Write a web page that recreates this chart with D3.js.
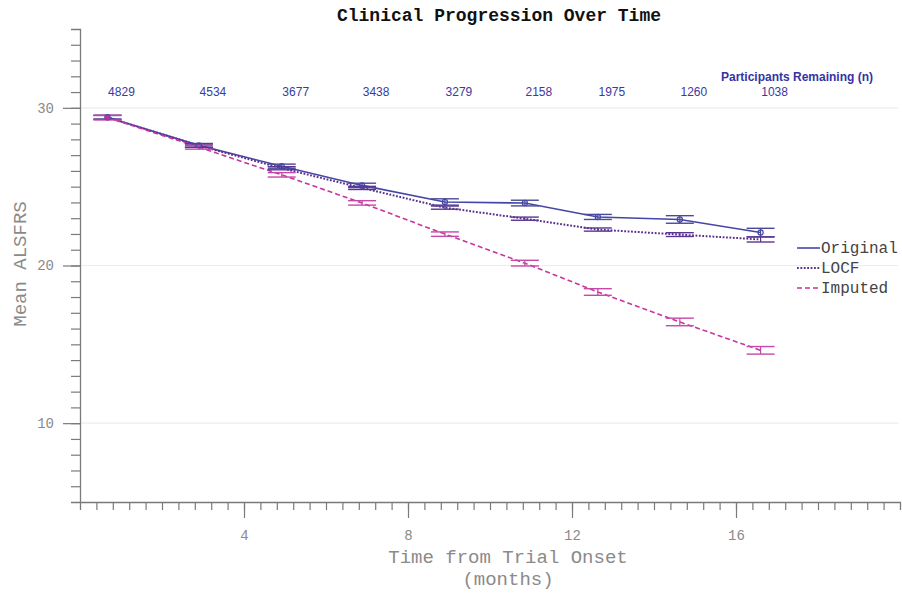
<!DOCTYPE html>
<html>
<head>
<meta charset="utf-8">
<script src="https://cdn.jsdelivr.net/npm/d3@7"></script>
<style>
  html, body { margin: 0; padding: 0; background: #fff; }
  svg { display: block; }
</style>
</head>
<body>
<svg id="chart" width="902" height="594"></svg>
<script>
// ---- data ----
const months = [0.67, 2.9, 4.92, 6.88, 8.9, 10.85, 12.63, 14.63, 16.6];
const participants = [4829, 4534, 3677, 3438, 3279, 2158, 1975, 1260, 1038];
const originalMean = [29.4, 27.62, 26.3, 25.08, 24.03, 23.96, 23.08, 22.92, 22.09];
const originalSE   = [0.12, 0.12, 0.13, 0.14, 0.2, 0.18, 0.16, 0.24, 0.27];
const locfMean     = [29.4, 27.6, 26.17, 24.92, 23.67, 22.97, 22.28, 21.96, 21.65];
const locfSE       = [0.12, 0.1, 0.1, 0.1, 0.1, 0.1, 0.1, 0.12, 0.16];
const imputedMean  = [29.38, 27.5, 25.75, 23.97, 21.99, 20.15, 18.32, 16.42, 14.62];
const imputedSE    = [0.15, 0.12, 0.14, 0.14, 0.14, 0.18, 0.21, 0.24, 0.24];
const seriesNames  = ["Original", "LOCF", "Imputed"];
const yTickLabels  = [10, 20, 30];
const xTickLabels  = [4, 8, 12, 16];

const svg = d3.select("#chart");
const mono = "'Liberation Mono', 'Courier New', monospace";
const sans = "'Liberation Sans', Arial, sans-serif";

const x = d3.scaleLinear().domain([0, 20]).range([80, 900]);
const y = d3.scaleLinear().domain([5, 35]).range([502, 29]);

const series = [
  { name: seriesNames[0], mean: originalMean, se: originalSE, color: "#4646a6", dash: null, width: 1.6, cap: "#4a4a9a" },
  { name: seriesNames[1], mean: locfMean, se: locfSE, color: "#5a2f8e", dash: "1.8,1.6", width: 2, cap: "#5b3590" },
  { name: seriesNames[2], mean: imputedMean, se: imputedSE, color: "#c8359f", dash: "5,3", width: 1.6, cap: "#c848a8" }
];

// grid lines
svg.append("g").selectAll("line").data(yTickLabels).join("line")
  .attr("x1", x(0)).attr("x2", 898)
  .attr("y1", d => y(d)).attr("y2", d => y(d))
  .attr("stroke", "#ececec").attr("stroke-width", 1.2);

// y axis minor + major
const yMinor = d3.range(6, 35, 1);
const gy = svg.append("g").attr("transform", `translate(${x(0)},0)`);
gy.call(d3.axisLeft(y).tickValues(yMinor).tickSize(9).tickFormat(""));
gy.append("g").call(d3.axisLeft(y).tickValues(yTickLabels).tickSize(17).tickFormat(d3.format("d")));
gy.selectAll("path.domain").attr("stroke", "#7a7a7a").attr("stroke-width", 1.3);
gy.selectAll(".tick line").attr("stroke", "#7a7a7a").attr("stroke-width", 1.2);
gy.selectAll(".tick text").attr("font-family", mono).attr("font-size", 14).attr("fill", "#8a8a8a").attr("x", -26);
gy.selectAll("g > g > path.domain").remove();

// x axis minor + major
const xMinor = d3.range(1, 50).map(i => +(i * 0.4).toFixed(2)).filter(v => v < 19.8);
const gx = svg.append("g").attr("transform", `translate(0,${y(5)})`);
gx.call(d3.axisBottom(x).tickValues(xMinor).tickSize(8).tickFormat(""));
gx.append("g").call(d3.axisBottom(x).tickValues(xTickLabels).tickSize(16).tickFormat(d3.format("d")));
gx.selectAll("path.domain").attr("stroke", "#7a7a7a").attr("stroke-width", 1.3);
gx.selectAll(".tick line").attr("stroke", "#7a7a7a").attr("stroke-width", 1.2);
gx.selectAll(".tick text").attr("font-family", mono).attr("font-size", 14).attr("fill", "#8a8a8a").attr("y", 28);
gx.selectAll("g > g > path.domain").remove();

// series lines
const line = d3.line().x((d, i) => x(months[i])).y(d => y(d));
series.forEach(s => {
  svg.append("path").datum(s.mean)
    .attr("d", line)
    .attr("fill", "none")
    .attr("stroke", s.color)
    .attr("stroke-width", s.width)
    .attr("stroke-dasharray", s.dash);
});

// error bars
const capHalf = 14;
series.forEach(s => {
  const g = svg.append("g");
  s.mean.forEach((m, i) => {
    const cx = x(months[i]);
    g.append("line").attr("x1", cx).attr("x2", cx)
      .attr("y1", y(m - s.se[i])).attr("y2", y(m + s.se[i]))
      .attr("stroke", s.cap).attr("stroke-width", 1.2);
    [m - s.se[i], m + s.se[i]].forEach(v => {
      g.append("line").attr("x1", cx - capHalf).attr("x2", cx + capHalf)
        .attr("y1", y(v)).attr("y2", y(v))
        .attr("stroke", s.cap).attr("stroke-width", 1.4);
    });
  });
});

// markers on original
svg.append("g").selectAll("circle").data(originalMean).join("circle")
  .attr("cx", (d, i) => x(months[i])).attr("cy", d => y(d))
  .attr("r", 2.6).attr("fill", "none").attr("stroke", "#4646a6").attr("stroke-width", 1.2);
svg.append("circle").attr("cx", x(months[0])).attr("cy", y(imputedMean[0]))
  .attr("r", 2.8).attr("fill", "#b8309a");

// participants remaining
svg.append("g").selectAll("text").data(participants).join("text")
  .attr("x", (d, i) => x(months[i]) + 14)
  .attr("y", 96)
  .attr("text-anchor", "middle")
  .attr("font-family", sans).attr("font-size", 12)
  .attr("fill", "#3a3aa0")
  .text(d => d);
svg.append("text")
  .attr("x", 797).attr("y", 81)
  .attr("text-anchor", "middle")
  .attr("font-family", sans).attr("font-size", 12).attr("font-weight", "bold")
  .attr("fill", "#3434a4")
  .text("Participants Remaining (n)");

// title
svg.append("text")
  .attr("x", 499).attr("y", 21)
  .attr("text-anchor", "middle")
  .attr("font-family", mono).attr("font-size", 18).attr("font-weight", "bold")
  .attr("fill", "#111")
  .text("Clinical Progression Over Time");

// axis titles
svg.append("text")
  .attr("x", 508).attr("y", 563)
  .attr("text-anchor", "middle")
  .attr("font-family", mono).attr("font-size", 19)
  .attr("fill", "#8a8a8a")
  .text("Time from Trial Onset");
svg.append("text")
  .attr("x", 508).attr("y", 585)
  .attr("text-anchor", "middle")
  .attr("font-family", mono).attr("font-size", 19)
  .attr("fill", "#8a8a8a")
  .text("(months)");
svg.append("text")
  .attr("transform", "translate(26,264) rotate(-90)")
  .attr("text-anchor", "middle")
  .attr("font-family", mono).attr("font-size", 19)
  .attr("fill", "#8a8a8a")
  .text("Mean ALSFRS");

// legend
const lg = svg.append("g").attr("transform", "translate(797,248)");
series.forEach((s, i) => {
  lg.append("line").attr("x1", 0).attr("x2", 23)
    .attr("y1", i * 20).attr("y2", i * 20)
    .attr("stroke", s.color).attr("stroke-width", s.width)
    .attr("stroke-dasharray", s.dash);
  lg.append("text").attr("x", 24).attr("y", i * 20 + 5)
    .attr("font-family", mono).attr("font-size", 16)
    .attr("fill", "#444")
    .text(s.name);
});
</script>
</body>
</html>
